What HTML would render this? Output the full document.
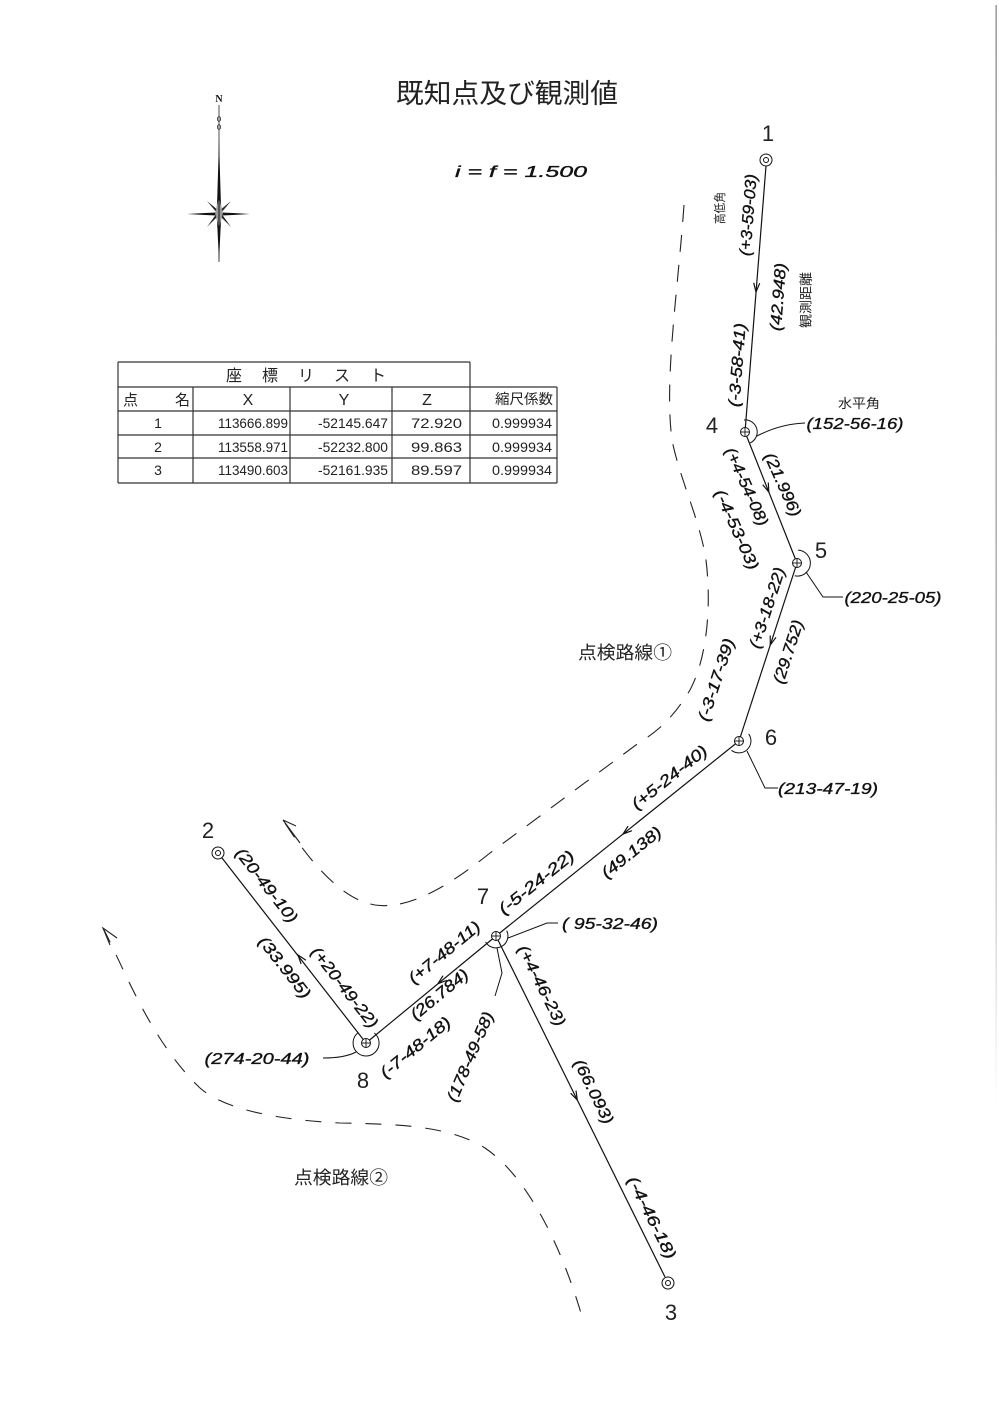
<!DOCTYPE html>
<html><head><meta charset="utf-8">
<style>
html,body{margin:0;padding:0;background:#fff;}
svg{display:block;}
.h{font-family:"Liberation Sans",sans-serif;font-style:italic;font-size:16px;fill:#111;stroke:#111;stroke-width:0.35;}
.n{font-family:"Liberation Sans",sans-serif;font-size:22px;fill:#222;}
.j{font-family:"Liberation Sans","Noto Sans CJK JP",sans-serif;fill:#222;}
.t{font-family:"Liberation Sans","Noto Sans CJK JP",sans-serif;font-size:14px;fill:#222;}
</style></head><body>
<svg width="999" height="1414" viewBox="0 0 999 1414" xmlns="http://www.w3.org/2000/svg">
<defs>
<linearGradient id="rg" x1="0" y1="0" x2="0" y2="1">
<stop offset="0" stop-color="#888"/><stop offset="0.7" stop-color="#aaa"/><stop offset="1" stop-color="#fff"/>
</linearGradient>
</defs>
<rect x="0" y="0" width="999" height="1414" fill="#fff"/>
<rect x="995.5" y="5" width="1.3" height="1100" fill="url(#rg)"/>

<!-- Title -->
<text class="j" x="507" y="103" font-size="27" text-anchor="middle" textLength="222" lengthAdjust="spacingAndGlyphs">既知点及び観測値</text>
<text class="h" x="521" y="177" font-size="20" text-anchor="middle" textLength="132" lengthAdjust="spacingAndGlyphs">i = f = 1.500</text>

<!-- Compass -->
<g>
<text x="219" y="102" font-family="Liberation Serif" font-weight="bold" font-size="10" text-anchor="middle" fill="#111">N</text>
<line x1="219" y1="105" x2="219" y2="262" stroke="#222" stroke-width="0.8"/>
<ellipse cx="219" cy="119" rx="1.6" ry="2.4" fill="none" stroke="#222" stroke-width="0.8"/>
<ellipse cx="219" cy="127" rx="1.6" ry="2.4" fill="none" stroke="#222" stroke-width="0.8"/>
<polygon points="219,140 220.8,200 221.5,213 220.5,230 219,262 217.5,230 216.5,213 217.2,200" fill="#111"/>
<polygon points="187,214 205,213 219,212.4 233,213 250,214 233,215 219,215.6 205,215" fill="#111"/>
<polygon points="207,201 219,211 221,213 219,215 217,213" fill="#222"/>
<polygon points="231,201 221,213 219,215 217,213 219,211" fill="#222"/>
<polygon points="207,227 217,213 219,211 221,213 219,215" fill="#222"/>
<polygon points="231,227 221,213 219,211 217,213 219,215" fill="#222"/>
<polygon points="219,198 223,213 219,228 215,213" fill="#999"/>
<line x1="219" y1="196" x2="219" y2="232" stroke="#111" stroke-width="1"/>
</g>

<!-- Table -->
<g stroke="#333" stroke-width="1.2" fill="none">
<line x1="118" y1="362" x2="470" y2="362"/>
<line x1="118" y1="362" x2="118" y2="483"/>
<line x1="470" y1="362" x2="470" y2="387"/>
<line x1="118" y1="387" x2="557" y2="387"/>
<line x1="557" y1="387" x2="557" y2="483"/>
<line x1="118" y1="411" x2="557" y2="411"/>
<line x1="118" y1="435" x2="557" y2="435"/>
<line x1="118" y1="458" x2="557" y2="458"/>
<line x1="118" y1="483" x2="557" y2="483"/>
<line x1="193" y1="387" x2="193" y2="483"/>
<line x1="290" y1="387" x2="290" y2="483"/>
<line x1="392" y1="387" x2="392" y2="483"/>
<line x1="470" y1="387" x2="470" y2="483"/>
</g>
<g class="t">
<text x="306" y="381" font-size="16" text-anchor="middle" textLength="160" lengthAdjust="spacing">座 標 リ ス ト</text>
<text x="123" y="405" font-size="15">点</text>
<text x="175" y="405" font-size="15">名</text>
<text x="248" y="405" font-size="16" text-anchor="middle">X</text>
<text x="344" y="405" font-size="16" text-anchor="middle">Y</text>
<text x="427" y="405" font-size="16" text-anchor="middle">Z</text>
<text x="524" y="404" font-size="14" text-anchor="middle" textLength="58" lengthAdjust="spacingAndGlyphs">縮尺係数</text>

<text x="158" y="428" text-anchor="middle">1</text>
<text x="288" y="428" text-anchor="end" textLength="70" lengthAdjust="spacingAndGlyphs">113666.899</text>
<text x="388" y="428" text-anchor="end" textLength="70" lengthAdjust="spacingAndGlyphs">-52145.647</text>
<text x="462" y="428" text-anchor="end" textLength="51" lengthAdjust="spacingAndGlyphs">72.920</text>
<text x="552" y="428" text-anchor="end" textLength="60" lengthAdjust="spacingAndGlyphs">0.999934</text>

<text x="158" y="452" text-anchor="middle">2</text>
<text x="288" y="452" text-anchor="end" textLength="70" lengthAdjust="spacingAndGlyphs">113558.971</text>
<text x="388" y="452" text-anchor="end" textLength="70" lengthAdjust="spacingAndGlyphs">-52232.800</text>
<text x="462" y="452" text-anchor="end" textLength="51" lengthAdjust="spacingAndGlyphs">99.863</text>
<text x="552" y="452" text-anchor="end" textLength="60" lengthAdjust="spacingAndGlyphs">0.999934</text>

<text x="158" y="475" text-anchor="middle">3</text>
<text x="288" y="475" text-anchor="end" textLength="70" lengthAdjust="spacingAndGlyphs">113490.603</text>
<text x="388" y="475" text-anchor="end" textLength="70" lengthAdjust="spacingAndGlyphs">-52161.935</text>
<text x="462" y="475" text-anchor="end" textLength="51" lengthAdjust="spacingAndGlyphs">89.597</text>
<text x="552" y="475" text-anchor="end" textLength="60" lengthAdjust="spacingAndGlyphs">0.999934</text>
</g>

<!-- Dashed routes -->
<g fill="none" stroke="#222" stroke-width="1.1">
<path d="M684,205 C678,290 664,380 672,440 C680,480 700,520 706,560 C712,610 706,660 690,690 C675,715 660,730 640,742 L490,853 C450,885 410,910 375,905 C345,900 315,870 283,820" stroke-dasharray="17 13"/>
<path d="M103,928 C125,970 150,1040 200,1088 C225,1110 280,1120 340,1123 C400,1124 450,1126 485,1148 C525,1175 560,1240 583,1320" stroke-dasharray="16 14"/>
<polyline points="296,826 283,820 300,843"/>
<polyline points="117,938 103,928 110,945"/>
</g>

<!-- Traverse lines -->
<g fill="none" stroke="#111" stroke-width="1.2">
<line x1="766" y1="166" x2="745" y2="432"/>
<line x1="745" y1="432" x2="797" y2="563"/>
<line x1="797" y1="563" x2="739" y2="741"/>
<line x1="739" y1="741" x2="496" y2="936"/>
<line x1="496" y1="936" x2="366" y2="1043"/>
<line x1="366" y1="1043" x2="222" y2="858"/>
<line x1="496" y1="936" x2="665" y2="1277"/>
<polyline points="753.7,282.8 756,292 759.7,283.2"/>
<polyline points="762.7,484.7 768.8,492 768.3,482.5"/>
<polyline points="770.2,635.5 770.3,645 776,637.3"/>
<polyline points="628.1,826.1 623,834 631.9,830.7"/>
<polyline points="443,975.7 438,983.7 446.8,980.3"/>
<polyline points="305.9,960.3 298,955 301.1,963.9"/>
<polyline points="570.6,1093.2 577.3,1100 576,1090.6"/>
</g>

<!-- Angle arcs and leaders -->
<g fill="none" stroke="#111" stroke-width="1">
<path d="M744,420 A12,12 0 0 1 750.1,442.9"/>
<path d="M757,436 Q780,424 805,423"/>
<path d="M798.1,550.1 A13,13 0 1 1 794.7,575.8"/>
<polyline points="806,572 823,597 843,597"/>
<path d="M748.7,733.9 A12,12 0 0 1 731.5,750.3"/>
<polyline points="747,751 765,788 778,788"/>
<path d="M506.7,930.6 A12,12 0 0 1 485.6,942"/>
<polyline points="508,938 547,923 558,923"/>
<polyline points="497,948 502,973 495,996"/>
<path d="M374.4,1033 A13,13 0 1 1 358.5,1032.4"/>
<path d="M356,1052 Q345,1058 323,1058"/>
</g>

<!-- Station marks -->
<g fill="#fff" stroke="#111" stroke-width="1">
<circle cx="766" cy="160" r="6"/><circle cx="766" cy="160" r="2.5"/>
<circle cx="218" cy="853" r="6"/><circle cx="218" cy="853" r="2.5"/>
<circle cx="668" cy="1283" r="6"/><circle cx="668" cy="1283" r="2.5"/>
<circle cx="745" cy="432" r="4.5"/>
<circle cx="797" cy="563" r="4.5"/>
<circle cx="739" cy="741" r="4.5"/>
<circle cx="496" cy="936" r="4.5"/>
<circle cx="366" cy="1043" r="4.5"/>
</g>
<g stroke="#111" stroke-width="0.9">
<line x1="740.5" y1="432" x2="749.5" y2="432"/><line x1="745" y1="427.5" x2="745" y2="436.5"/>
<line x1="792.5" y1="563" x2="801.5" y2="563"/><line x1="797" y1="558.5" x2="797" y2="567.5"/>
<line x1="734.5" y1="741" x2="743.5" y2="741"/><line x1="739" y1="736.5" x2="739" y2="745.5"/>
<line x1="491.5" y1="936" x2="500.5" y2="936"/><line x1="496" y1="931.5" x2="496" y2="940.5"/>
<line x1="361.5" y1="1043" x2="370.5" y2="1043"/><line x1="366" y1="1038.5" x2="366" y2="1047.5"/>
</g>

<!-- Point numbers -->
<g class="n" text-anchor="middle">
<text x="768" y="141">1</text>
<text x="712" y="433">4</text>
<text x="821" y="558">5</text>
<text x="771" y="745">6</text>
<text x="483" y="904">7</text>
<text x="363" y="1088">8</text>
<text x="208" y="838">2</text>
<text x="671" y="1320">3</text>
</g>

<!-- Route labels -->
<text class="j" x="625" y="659" font-size="18" text-anchor="middle" textLength="94" lengthAdjust="spacingAndGlyphs">点検路線①</text>
<text class="j" x="341" y="1184" font-size="18" text-anchor="middle" textLength="94" lengthAdjust="spacingAndGlyphs">点検路線②</text>

<!-- Small Japanese captions -->
<text class="j" font-size="12" transform="translate(720,208) rotate(-90)" text-anchor="middle" dominant-baseline="central" textLength="32" lengthAdjust="spacingAndGlyphs">高低角</text>
<text class="j" font-size="13" transform="translate(806,300) rotate(-90)" text-anchor="middle" dominant-baseline="central" textLength="56" lengthAdjust="spacingAndGlyphs">観測距離</text>
<text class="j" font-size="13" x="859" y="408" text-anchor="middle" textLength="42" lengthAdjust="spacingAndGlyphs">水平角</text>

<!-- Horizontal angle labels -->
<g class="h" font-size="17">
<text x="855" y="429" text-anchor="middle" textLength="97" lengthAdjust="spacingAndGlyphs">(152-56-16)</text>
<text x="893" y="603" text-anchor="middle" textLength="97" lengthAdjust="spacingAndGlyphs">(220-25-05)</text>
<text x="828" y="794" text-anchor="middle" textLength="100" lengthAdjust="spacingAndGlyphs">(213-47-19)</text>
<text x="610" y="929" text-anchor="middle" textLength="96" lengthAdjust="spacingAndGlyphs">( 95-32-46)</text>
<text x="257" y="1064" text-anchor="middle" textLength="105" lengthAdjust="spacingAndGlyphs">(274-20-44)</text>
</g>

<!-- Rotated line labels -->
<g class="h" text-anchor="middle" dominant-baseline="central">
<text transform="translate(749,215) rotate(-85.6)" textLength="82" lengthAdjust="spacingAndGlyphs">(+3-59-03)</text>
<text transform="translate(779,297) rotate(-85.6)" textLength="68" lengthAdjust="spacingAndGlyphs">(42.948)</text>
<text transform="translate(738,365) rotate(-85.6)" textLength="84" lengthAdjust="spacingAndGlyphs">(-3-58-41)</text>

<text transform="translate(746,487) rotate(66)" textLength="84" lengthAdjust="spacingAndGlyphs">(+4-54-08)</text>
<text transform="translate(782,485) rotate(66)" textLength="68" lengthAdjust="spacingAndGlyphs">(21.996)</text>
<text transform="translate(736,530) rotate(66)" textLength="86" lengthAdjust="spacingAndGlyphs">(-4-53-03)</text>

<text transform="translate(768,608) rotate(-72)" textLength="84" lengthAdjust="spacingAndGlyphs">(+3-18-22)</text>
<text transform="translate(789,652) rotate(-72)" textLength="66" lengthAdjust="spacingAndGlyphs">(29.752)</text>
<text transform="translate(717,680) rotate(-72)" textLength="86" lengthAdjust="spacingAndGlyphs">(-3-17-39)</text>

<text transform="translate(670,778) rotate(-38.7)" textLength="92" lengthAdjust="spacingAndGlyphs">(+5-24-40)</text>
<text transform="translate(632,853) rotate(-38.7)" textLength="72" lengthAdjust="spacingAndGlyphs">(49.138)</text>
<text transform="translate(537,883) rotate(-38.7)" textLength="92" lengthAdjust="spacingAndGlyphs">(-5-24-22)</text>

<text transform="translate(445,953) rotate(-39.5)" textLength="88" lengthAdjust="spacingAndGlyphs">(+7-48-11)</text>
<text transform="translate(440,995) rotate(-39.5)" textLength="70" lengthAdjust="spacingAndGlyphs">(26.784)</text>
<text transform="translate(416,1048) rotate(-39.5)" textLength="86" lengthAdjust="spacingAndGlyphs">(-7-48-18)</text>
<text transform="translate(471,1057) rotate(-67)" textLength="96" lengthAdjust="spacingAndGlyphs">(178-49-58)</text>

<text transform="translate(266,886) rotate(52)" textLength="90" lengthAdjust="spacingAndGlyphs">(20-49-10)</text>
<text transform="translate(284,968) rotate(52)" textLength="74" lengthAdjust="spacingAndGlyphs">(33.995)</text>
<text transform="translate(344,988) rotate(52)" textLength="98" lengthAdjust="spacingAndGlyphs">(+20-49-22)</text>

<text transform="translate(541,986) rotate(63.6)" textLength="88" lengthAdjust="spacingAndGlyphs">(+4-46-23)</text>
<text transform="translate(593,1092) rotate(63.6)" textLength="70" lengthAdjust="spacingAndGlyphs">(66.093)</text>
<text transform="translate(651,1218) rotate(63.6)" textLength="90" lengthAdjust="spacingAndGlyphs">(-4-46-18)</text>
</g>
</svg>
</body></html>
